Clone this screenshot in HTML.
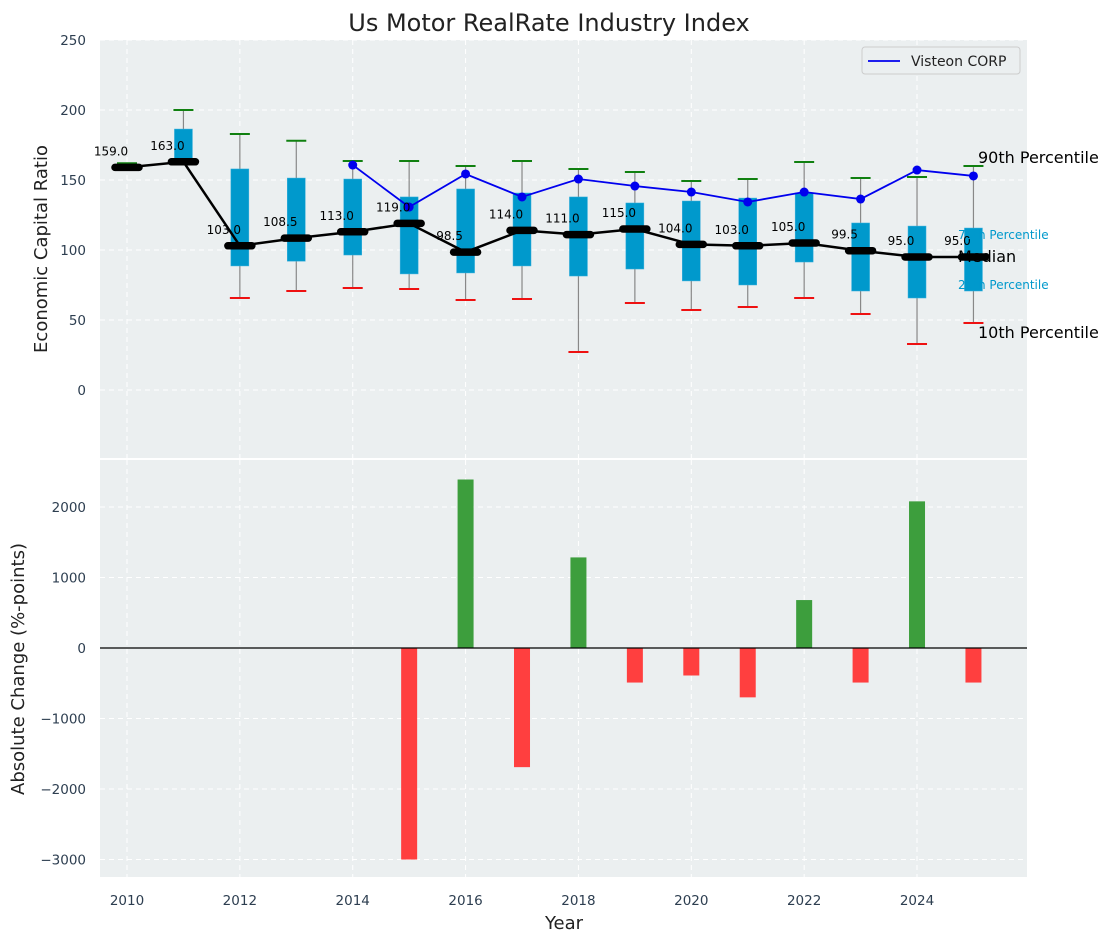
<!DOCTYPE html>
<html><head><meta charset="utf-8"><style>
body{margin:0;background:#fff;}
svg text{font-family:"DejaVu Sans","Liberation Sans",sans-serif;}
</style></head><body>
<svg id="chart" width="1114" height="942" xmlns="http://www.w3.org/2000/svg"></svg>
<script>
const years=[2010,2011,2012,2013,2014,2015,2016,2017,2018,2019,2020,2021,2022,2023,2024,2025];
const medians=[159,163,103,108.5,113,119,98.5,114,111,115,104,103,105,99.5,95,95];
const q1=[159,163,88.6,92,96.4,82.9,83.6,88.6,81.4,86.4,77.9,75,91.4,70.7,65.7,70.7];
const q3=[160,186.4,157.9,151.4,150.7,137.9,143.6,140.7,137.9,133.6,135,137.1,140.7,119.3,117.1,115.7];
const p10=[159,163,65.7,70.7,72.9,72.1,64.3,65,27.1,62.1,57.1,59.3,65.7,54.3,32.9,47.9];
const p90=[162,200,182.9,178,163.6,163.6,160,163.6,157.9,155.7,149.3,150.7,162.9,151.4,152.1,160];
const visYears=[2014,2015,2016,2017,2018,2019,2020,2021,2022,2023,2024,2025];
const visVals=[160.7,130.7,154.3,137.9,150.7,145.7,141.4,134.3,141.4,136.4,157.1,152.9];
const changes=[0,0,0,0,0,-3000,2390,-1690,1285,-490,-390,-700,680,-490,2080,-490];
const yTicksTop=[0,50,100,150,200,250];
const yTicksBot=[-3000,-2000,-1000,0,1000,2000];
const xTicks=[2010,2012,2014,2016,2018,2020,2022,2024];

const svg=document.getElementById('chart');
const NS='http://www.w3.org/2000/svg';
function mk(tag,attrs,parent){const e=document.createElementNS(NS,tag);for(const k in attrs)e.setAttribute(k,attrs[k]);(parent||svg).appendChild(e);return e;}
const X0=100,X1=1027;
const xs=y=>127+(y-2010)*56.43;
const yt=v=>390-v*1.4;
const yb=v=>648-v*0.0705;
const tickCol='#2d3e50';

const p1=mk('rect',{x:X0,y:40,width:X1-X0,height:418,fill:'#ebeff0'});

const p2=mk('rect',{x:X0,y:460,width:X1-X0,height:417,fill:'#ebeff0'});


xTicks.forEach(t=>{
  mk('line',{x1:xs(t),x2:xs(t),y1:40,y2:458,stroke:'#fff','stroke-dasharray':'5,4','stroke-width':1});
  mk('line',{x1:xs(t),x2:xs(t),y1:460,y2:877,stroke:'#fff','stroke-dasharray':'5,4','stroke-width':1});
  const tx=mk('text',{x:xs(t),y:905,'text-anchor':'middle','font-size':13.5,fill:tickCol});tx.textContent=t;
  
});
yTicksTop.forEach(t=>{
  mk('line',{x1:X0,x2:X1,y1:yt(t),y2:yt(t),stroke:'#fff','stroke-dasharray':'5,4'});
  const tx=mk('text',{x:86,y:yt(t)+5,'text-anchor':'end','font-size':13.5,fill:tickCol});tx.textContent=t;
  
});
yTicksBot.forEach(t=>{
  mk('line',{x1:X0,x2:X1,y1:yb(t),y2:yb(t),stroke:'#fff','stroke-dasharray':'5,4'});
  const tx=mk('text',{x:86,y:yb(t)+5,'text-anchor':'end','font-size':13.5,fill:tickCol});tx.textContent=(t<0?'\u2212'+(-t):t);
  
});

years.forEach((yr,i)=>{
  const x=xs(yr);
  const w=mk('line',{x1:x,x2:x,y1:yt(p90[i]),y2:yt(p10[i]),stroke:'#888','stroke-width':1.2});
  
  const b=mk('rect',{x:x-9,y:yt(q3[i]),width:18,height:Math.max(1,yt(q1[i])-yt(q3[i])),fill:'#0099cc',stroke:'#3cb0dc','stroke-width':0.5});
  
  const c1=mk('line',{x1:x-10,x2:x+10,y1:yt(p90[i]),y2:yt(p90[i]),stroke:'#108010','stroke-width':2});
  
  if(p10[i]<medians[i]-1){const c2=mk('line',{x1:x-10,x2:x+10,y1:yt(p10[i]),y2:yt(p10[i]),stroke:'#ee1111','stroke-width':2});
  }
});
let d='';visYears.forEach((y,i)=>{d+=(i?'L':'M')+xs(y)+','+yt(visVals[i]);});
const vl=mk('path',{d:d,fill:'none',stroke:'#0000ee','stroke-width':1.8});

visYears.forEach((y,i)=>{const c=mk('circle',{cx:xs(y),cy:yt(visVals[i]),r:4.5,fill:'#0000ee'});
  });
let dm='';years.forEach((y,i)=>{dm+=(i?'L':'M')+xs(y)+','+yt(medians[i]);});
const ml=mk('path',{d:dm,fill:'none',stroke:'#000','stroke-width':2.5});

years.forEach((y,i)=>{
  const m=mk('line',{x1:xs(y)-12,x2:xs(y)+12,y1:yt(medians[i]),y2:yt(medians[i]),stroke:'#000','stroke-width':7.5,'stroke-linecap':'round'});
  
  const t=mk('text',{x:xs(y)-16,y:yt(medians[i])-12,'text-anchor':'middle','font-size':12,fill:'#000'});t.textContent=medians[i].toFixed(1);
  
});
[['90th Percentile',978,163,16,'#000'],['10th Percentile',978,338,16,'#000'],['75th Percentile',958,239,12,'#0099cc'],['25th Percentile',958,289,12,'#0099cc'],['Median',958,262,16,'#000']].forEach(a=>{
  const t=mk('text',{x:a[1],y:a[2],'font-size':a[3],fill:a[4]});t.textContent=a[0];
  
});
const lg=mk('g',{});
mk('rect',{x:862,y:47,width:158,height:27,rx:3,fill:'#ebeff0',stroke:'#ccc'},lg);
mk('line',{x1:868,x2:900,y1:61,y2:61,stroke:'#0000ee','stroke-width':1.8},lg);
const lt=mk('text',{x:911,y:66,'font-size':14,fill:'#222'},lg);lt.textContent='Visteon CORP';

years.forEach((y,i)=>{
  if(!changes[i])return;
  const v=changes[i];
  const r=mk('rect',{x:xs(y)-8,y:Math.min(yb(v),yb(0)),width:16,height:Math.abs(yb(v)-yb(0)),fill:v>0?'#3d9e3d':'#ff3f3f'});
  
});
mk('line',{x1:X0,x2:X1,y1:yb(0),y2:yb(0),stroke:'#000','stroke-width':1.2});

const tt=mk('text',{x:549,y:31,'text-anchor':'middle','font-size':24,fill:'#222'});tt.textContent='Us Motor RealRate Industry Index';

const a1=mk('text',{x:0,y:0,'text-anchor':'middle','font-size':18,fill:'#222',transform:'translate(47,249) rotate(-90)'});a1.textContent='Economic Capital Ratio';

const a2=mk('text',{x:0,y:0,'text-anchor':'middle','font-size':18,fill:'#222',transform:'translate(24,669) rotate(-90)'});a2.textContent='Absolute Change (%-points)';

const a3=mk('text',{x:564,y:929,'text-anchor':'middle','font-size':18,fill:'#222'});a3.textContent='Year';

</script>
</body></html>
